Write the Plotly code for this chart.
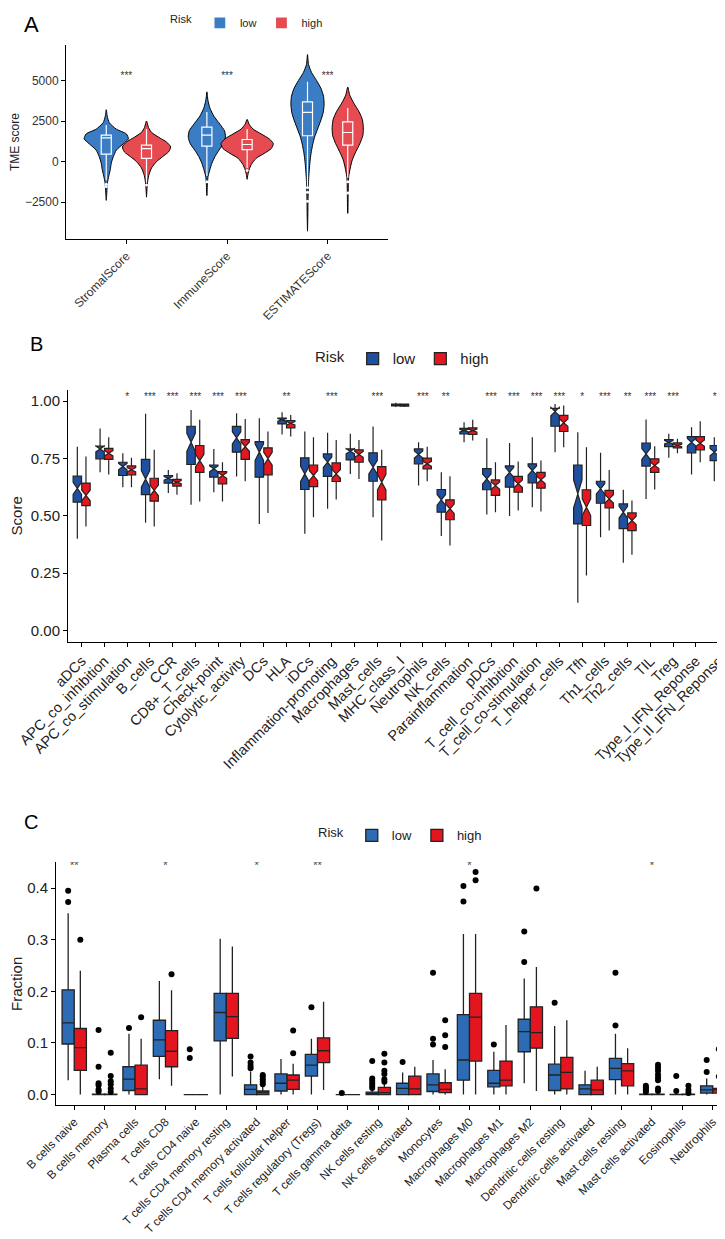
import plotly.graph_objects as go

W, H = 725, 1239
FONT = "Liberation Sans, Arial, sans-serif"

# ---------------- panel A : TME scores (violins + inner boxes) ----------------
tme_cats = ["StromalScore", "ImmuneScore", "ESTIMATEScore"]
tme_sig = ["***", "***", "***"]

# violin outlines: score level -> half width (category units)
stromal_low_y = [3200, 2800, 2400, 2000, 1700, 1400, 1100, 700, 300, -100, -500, -900, -1300, -1600, -2000, -2400]
stromal_low_w = [0, 0.01, 0.03, 0.10, 0.20, 0.22, 0.17, 0.10, 0.07, 0.05, 0.04, 0.025, 0.012, 0.008, 0.005, 0]
stromal_high_y = [2500, 2100, 1800, 1500, 1200, 900, 600, 300, 0, -400, -800, -1200, -1600, -2200]
stromal_high_w = [0, 0.02, 0.05, 0.12, 0.20, 0.24, 0.22, 0.16, 0.10, 0.05, 0.025, 0.012, 0.006, 0]
immune_low_y = [4300, 3800, 3300, 2800, 2300, 1900, 1500, 1100, 700, 300, -100, -500, -900, -1300, -2100]
immune_low_w = [0, 0.01, 0.03, 0.07, 0.13, 0.175, 0.185, 0.165, 0.12, 0.08, 0.05, 0.03, 0.012, 0.006, 0]
immune_high_y = [2600, 2300, 2000, 1700, 1400, 1100, 800, 500, 200, -200, -500, -800, -1100]
immune_high_w = [0, 0.02, 0.06, 0.14, 0.22, 0.26, 0.24, 0.17, 0.09, 0.04, 0.02, 0.008, 0]
estimate_low_y = [6600, 6000, 5500, 5000, 4500, 4000, 3500, 3000, 2500, 2000, 1500, 1000, 500, 0, -500,
                  -1000, -1500, -2500, -3500, -4300]
estimate_low_w = [0, 0.01, 0.04, 0.09, 0.135, 0.16, 0.165, 0.155, 0.13, 0.10, 0.07, 0.05, 0.035, 0.025, 0.018,
                  0.012, 0.008, 0.005, 0.003, 0]
estimate_high_y = [4600, 4100, 3600, 3100, 2600, 2100, 1600, 1100, 600, 100, -400, -900, -1300, -2000, -3000, -3200]
estimate_high_w = [0, 0.02, 0.06, 0.11, 0.145, 0.155, 0.15, 0.12, 0.08, 0.045, 0.025, 0.01, 0.006, 0.004, 0.002, 0]

tme_low_lo = [-1150, -900, -1500]
tme_low_q1 = [450, 950, 1590]
tme_low_med = [1460, 1630, 3030]
tme_low_q3 = [1630, 2120, 3680]
tme_low_hi = [2250, 3050, 4920]
tme_high_lo = [-1300, -400, -1000]
tme_high_q1 = [190, 740, 1010]
tme_high_med = [800, 1050, 1790]
tme_high_q3 = [1010, 1360, 2450]
tme_high_hi = [2000, 2000, 3300]
tme_low_out = [[-1400, -1550], [-1250], [-1600, -1900, -2450]]
tme_high_out = [[-1450], [-550], [-1250, -1950]]

# ---------------- panel B : immune function scores ----------------
func_cats = ["aDCs", "APC_co_inhibition", "APC_co_stimulation", "B_cells", "CCR", "CD8+_T_cells", "Check-point",
             "Cytolytic_activity", "DCs", "HLA", "iDCs", "Inflammation-promoting", "Macrophages", "Mast_cells",
             "MHC_class_I", "Neutrophils", "NK_cells", "Parainflammation", "pDCs", "T_cell_co-inhibition",
             "T_cell_co-stimulation", "T_helper_cells", "Tfh", "Th1_cells", "Th2_cells", "TIL", "Treg",
             "Type_I_IFN_Reponse", "Type_II_IFN_Reponse"]
func_sig = ["", "", "*", "***", "***", "***", "***", "***", "", "**", "", "***", "", "***", "", "***", "**", "",
            "***", "***", "***", "***", "*", "***", "**", "***", "***", "", "***"]

func_low_lo = [0.40, 0.69, 0.625, 0.47, 0.60, 0.548, 0.603, 0.672, 0.465, 0.855, 0.422, 0.531, 0.683, 0.494, 0.975,
               0.632, 0.412, 0.821, 0.506, 0.499, 0.538, 0.778, 0.121, 0.407, 0.295, 0.574, 0.753, 0.680, 0.651]
func_low_q1 = [0.56, 0.749, 0.676, 0.593, 0.643, 0.724, 0.669, 0.778, 0.669, 0.901, 0.615, 0.672, 0.744, 0.651, 0.980,
               0.727, 0.516, 0.858, 0.614, 0.625, 0.644, 0.891, 0.465, 0.555, 0.444, 0.717, 0.802, 0.775, 0.741]
func_low_med = [0.62, 0.792, 0.715, 0.661, 0.664, 0.821, 0.705, 0.840, 0.778, 0.919, 0.683, 0.734, 0.782, 0.712, 0.984,
                0.768, 0.570, 0.872, 0.661, 0.690, 0.698, 0.955, 0.596, 0.618, 0.516, 0.770, 0.821, 0.821, 0.778]
func_low_q3 = [0.673, 0.804, 0.734, 0.746, 0.676, 0.891, 0.722, 0.890, 0.824, 0.926, 0.753, 0.770, 0.792, 0.775, 0.988,
               0.792, 0.615, 0.882, 0.706, 0.718, 0.727, 0.969, 0.722, 0.651, 0.552, 0.817, 0.833, 0.846, 0.807]
func_low_hi = [0.802, 0.881, 0.773, 0.945, 0.70, 0.962, 0.792, 0.948, 0.926, 0.952, 0.868, 0.863, 0.858, 0.890, 0.993,
               0.821, 0.690, 0.908, 0.839, 0.818, 0.843, 0.988, 0.865, 0.775, 0.614, 0.920, 0.858, 0.887, 0.843]

func_high_lo = [0.454, 0.680, 0.625, 0.454, 0.592, 0.563, 0.563, 0.651, 0.512, 0.846, 0.494, 0.571, 0.661, 0.393, 0.975,
                0.651, 0.371, 0.829, 0.516, 0.523, 0.519, 0.799, 0.240, 0.436, 0.330, 0.615, 0.773, 0.734, 0.647]
func_high_q1 = [0.545, 0.746, 0.679, 0.564, 0.630, 0.690, 0.640, 0.746, 0.679, 0.884, 0.628, 0.650, 0.734, 0.570, 0.979,
                0.705, 0.483, 0.855, 0.589, 0.603, 0.621, 0.868, 0.458, 0.535, 0.436, 0.690, 0.797, 0.788, 0.715]
func_high_med = [0.589, 0.773, 0.701, 0.611, 0.647, 0.741, 0.676, 0.802, 0.749, 0.904, 0.676, 0.683, 0.768, 0.647, 0.983,
                 0.727, 0.531, 0.872, 0.632, 0.640, 0.657, 0.906, 0.538, 0.574, 0.480, 0.720, 0.807, 0.817, 0.734]
func_high_q3 = [0.643, 0.794, 0.718, 0.664, 0.659, 0.807, 0.693, 0.833, 0.797, 0.916, 0.722, 0.731, 0.788, 0.715, 0.987,
                0.752, 0.570, 0.884, 0.657, 0.672, 0.690, 0.938, 0.614, 0.611, 0.513, 0.749, 0.818, 0.846, 0.760]
func_high_hi = [0.759, 0.843, 0.753, 0.788, 0.686, 0.919, 0.734, 0.923, 0.868, 0.940, 0.843, 0.831, 0.831, 0.788, 0.990,
                0.802, 0.673, 0.919, 0.734, 0.737, 0.741, 0.981, 0.799, 0.70, 0.567, 0.804, 0.836, 0.913, 0.818]
n_per_group = 45  # used for the notch half-span, 1.58*IQR/sqrt(n) as ggplot does

# ---------------- panel C : CIBERSORT fractions ----------------
cell_cats = ["B cells naive", "B cells memory", "Plasma cells", "T cells CD8", "T cells CD4 naive",
             "T cells CD4 memory resting", "T cells CD4 memory activated", "T cells follicular helper",
             "T cells regulatory (Tregs)", "T cells gamma delta", "NK cells resting", "NK cells activated",
             "Monocytes", "Macrophages M0", "Macrophages M1", "Macrophages M2", "Dendritic cells resting",
             "Dendritic cells activated", "Mast cells resting", "Mast cells activated", "Eosinophils", "Neutrophils"]
cell_sig = ["**", "", "", "*", "", "", "*", "", "**", "", "", "", "", "*", "", "", "", "", "", "*", "", ""]

cell_low_lo = [0.028, 0, 0, 0.030, 0, 0, 0, 0, 0, 0, 0, 0, 0, 0, 0, 0.022, 0, 0, 0, 0, 0, 0]
cell_low_q1 = [0.098, 0, 0.008, 0.074, 0, 0.104, 0, 0.007, 0.036, 0, 0, 0, 0.006, 0.028, 0.015, 0.083, 0.008, 0,
               0.029, 0, 0, 0.003]
cell_low_med = [0.139, 0, 0.030, 0.106, 0, 0.159, 0.010, 0.022, 0.057, 0, 0.002, 0.012, 0.019, 0.067, 0.022, 0.122,
                0.038, 0.011, 0.051, 0, 0, 0.009]
cell_low_q3 = [0.203, 0.001, 0.054, 0.144, 0, 0.196, 0.019, 0.040, 0.078, 0, 0.005, 0.022, 0.040, 0.155, 0.047, 0.146,
               0.059, 0.019, 0.070, 0.001, 0.0005, 0.017]
cell_low_hi = [0.351, 0.003, 0.118, 0.220, 0, 0.302, 0.045, 0.069, 0.108, 0, 0.010, 0.043, 0.067, 0.311, 0.083, 0.225,
               0.133, 0.046, 0.118, 0.002, 0.001, 0.031]
cell_low_out = [[0.395, 0.373], [0.125, 0.054, 0.022, 0.018, 0.010, 0.006], [0.129], [], [0.088, 0.071], [],
                [0.074, 0.062, 0.056, 0.051], [], [0.169], [0.003], [0.065, 0.031, 0.027, 0.022, 0.017, 0.013],
                [0.063], [0.236, 0.108, 0.097], [0.404, 0.374], [0.097], [0.316, 0.257], [0.178], [],
                [0.236, 0.134], [0.017, 0.014, 0.011, 0.008, 0.005], [0.036, 0.007], [0.067, 0.044]]

cell_high_lo = [0, 0, 0, 0.017, 0, 0.035, 0, 0, 0.009, 0, 0, 0, 0, 0, 0, 0.007, 0, 0, 0, 0, 0, 0]
cell_high_q1 = [0.047, 0, 0, 0.054, 0, 0.109, 0, 0.010, 0.062, 0, 0, 0, 0.004, 0.065, 0.017, 0.090, 0.011, 0, 0.017,
                0, 0, 0.003]
cell_high_med = [0.091, 0, 0.011, 0.084, 0, 0.151, 0.004, 0.028, 0.085, 0, 0.004, 0.011, 0.010, 0.150, 0.028, 0.120,
                 0.043, 0.009, 0.046, 0, 0, 0.009]
cell_high_q3 = [0.128, 0.001, 0.057, 0.124, 0, 0.196, 0.007, 0.038, 0.110, 0, 0.014, 0.036, 0.023, 0.196, 0.065,
                0.170, 0.072, 0.028, 0.060, 0.001, 0.001, 0.012]
cell_high_hi = [0.240, 0.002, 0.108, 0.202, 0, 0.287, 0.015, 0.060, 0.180, 0, 0.035, 0.054, 0.049, 0.311, 0.135,
                0.247, 0.144, 0.054, 0.090, 0.002, 0.002, 0.026]
cell_high_out = [[0.300], [0.081, 0.036, 0.026, 0.020, 0.012, 0.005], [0.150], [0.233], [], [],
                 [0.038, 0.035, 0.030, 0.025, 0.020], [0.124, 0.080], [], [],
                 [0.079, 0.062, 0.046, 0.040, 0.030, 0.025], [], [0.144, 0.115, 0.092], [0.431, 0.415], [], [0.399],
                 [], [], [], [0.058, 0.052, 0.046, 0.039, 0.033, 0.028, 0.012, 0.007], [0.017, 0.009, 0.003],
                 [0.088, 0.035]]

# colours
A_LOW, A_HIGH = "#3A7DC4", "#E64B52"
B_LOW, B_HIGH = "#1F4F9F", "#E3171F"
C_LOW, C_HIGH = "#2D6BB5", "#E3161F"


def px(x):
    return x / W


def py(y):
    return 1 - y / H


fig = go.Figure()

# ---- panel A ----
violins = [
    (0, -0.2, stromal_low_y, stromal_low_w, A_LOW), (0, 0.2, stromal_high_y, stromal_high_w, A_HIGH),
    (1, -0.2, immune_low_y, immune_low_w, A_LOW), (1, 0.2, immune_high_y, immune_high_w, A_HIGH),
    (2, -0.2, estimate_low_y, estimate_low_w, A_LOW), (2, 0.2, estimate_high_y, estimate_high_w, A_HIGH),
]
for cat, off, ys, ws, col in violins:
    c = cat + off
    xs = [c - w for w in ws] + [c + w for w in ws[::-1]]
    fig.add_trace(go.Scatter(
        x=xs, y=ys + ys[::-1], fill="toself", fillcolor=col, mode="lines",
        line=dict(color="black", width=1, shape="spline", smoothing=0.6), hoverinfo="skip", showlegend=False,
        xaxis="x", yaxis="y"))

# the inner boxes sit on an overlaid copy of the A axes so they are drawn above the violins
for name, off, col, lo, q1, med, q3, hi, outs in [
        ("low", -0.2, A_LOW, tme_low_lo, tme_low_q1, tme_low_med, tme_low_q3, tme_low_hi, tme_low_out),
        ("high", 0.2, A_HIGH, tme_high_lo, tme_high_q1, tme_high_med, tme_high_q3, tme_high_hi, tme_high_out)]:
    xpos = [i + off for i in range(len(tme_cats))]
    fig.add_trace(go.Box(
        x=xpos, q1=q1, median=med, q3=q3, lowerfence=lo, upperfence=hi,
        width=0.1, whiskerwidth=0, fillcolor=col, line=dict(color="white", width=1.2),
        name=name, legend="legend", xaxis="x4", yaxis="y4", hoverinfo="skip"))
    ox, oy = [], []
    for x, vals in zip(xpos, outs):
        ox += [x] * len(vals)
        oy += vals
    fig.add_trace(go.Scatter(x=ox, y=oy, mode="markers", marker=dict(color="white", size=3),
                             showlegend=False, hoverinfo="skip", xaxis="x", yaxis="y"))

fig.add_trace(go.Scatter(x=list(range(len(tme_cats))), y=[5250] * len(tme_cats), text=tme_sig, mode="text",
                         textfont=dict(size=10, color="#333"), showlegend=False, hoverinfo="skip",
                         xaxis="x", yaxis="y"))

# ---- panel B ----
for name, off, col, lo, q1, med, q3, hi in [
        ("low", -0.19, B_LOW, func_low_lo, func_low_q1, func_low_med, func_low_q3, func_low_hi),
        ("high", 0.19, B_HIGH, func_high_lo, func_high_q1, func_high_med, func_high_q3, func_high_hi)]:
    notch = [1.58 * (b - a) / n_per_group ** 0.5 for a, b in zip(q1, q3)]
    fig.add_trace(go.Box(
        x=[i + off for i in range(len(func_cats))], q1=q1, median=med, q3=q3, lowerfence=lo, upperfence=hi,
        notched=True, notchspan=notch, notchwidth=0.5,
        width=0.37, whiskerwidth=0, fillcolor=col, line=dict(color="#222222", width=1.2),
        name=name, legend="legend2", xaxis="x2", yaxis="y2", hoverinfo="skip"))

fig.add_trace(go.Scatter(x=list(range(len(func_cats))), y=[1.015] * len(func_cats), text=func_sig, mode="text",
                         textfont=dict(size=10, color="#333"), showlegend=False, hoverinfo="skip",
                         xaxis="x2", yaxis="y2"))

# ---- panel C ----
for name, off, col, lo, q1, med, q3, hi, outs in [
        ("low", -0.2, C_LOW, cell_low_lo, cell_low_q1, cell_low_med, cell_low_q3, cell_low_hi, cell_low_out),
        ("high", 0.2, C_HIGH, cell_high_lo, cell_high_q1, cell_high_med, cell_high_q3, cell_high_hi, cell_high_out)]:
    xpos = [i + off for i in range(len(cell_cats))]
    fig.add_trace(go.Box(
        x=xpos, q1=q1, median=med, q3=q3, lowerfence=lo, upperfence=hi,
        width=0.4, whiskerwidth=0, fillcolor=col, line=dict(color="#222222", width=1.3),
        name=name, legend="legend3", xaxis="x3", yaxis="y3", hoverinfo="skip"))
    ox, oy = [], []
    for x, vals in zip(xpos, outs):
        ox += [x] * len(vals)
        oy += vals
    fig.add_trace(go.Scatter(x=ox, y=oy, mode="markers", marker=dict(color="black", size=6),
                             showlegend=False, hoverinfo="skip", xaxis="x3", yaxis="y3"))

fig.add_trace(go.Scatter(x=list(range(len(cell_cats))), y=[0.442] * len(cell_cats), text=cell_sig, mode="text",
                         textfont=dict(size=11, color="#333"), showlegend=False, hoverinfo="skip",
                         xaxis="x3", yaxis="y3"))

axis_style = dict(showline=True, linecolor="black", linewidth=1, ticks="outside", ticklen=4, tickcolor="black",
                  showgrid=False, zeroline=False, fixedrange=True, automargin=False)

a_x_dom = [px(58), px(380)]
a_y_dom = [py(228), py(33)]
a_x_rng = [-0.6, 2.6]
a_y_rng = [-4800, 7200]

fig.update_layout(
    width=W, height=H, margin=dict(l=0, r=0, t=0, b=0),
    plot_bgcolor="white", paper_bgcolor="white",
    font=dict(family=FONT, color="#222"),
    boxmode="overlay",
    xaxis=dict(axis_style, anchor="y", domain=a_x_dom, range=a_x_rng, tickvals=[0, 1, 2],
               ticktext=tme_cats, tickangle=-45, tickfont=dict(size=12, color="#333")),
    yaxis=dict(axis_style, anchor="x", domain=a_y_dom, range=a_y_rng,
               tickvals=[-2500, 0, 2500, 5000], tickfont=dict(size=12, color="#333"),
               title=dict(text="TME score", font=dict(size=12), standoff=6)),
    xaxis4=dict(overlaying="x", anchor="y4", domain=a_x_dom, range=a_x_rng, visible=False, fixedrange=True),
    yaxis4=dict(overlaying="y", anchor="x4", domain=a_y_dom, range=a_y_rng, visible=False, fixedrange=True),
    xaxis2=dict(axis_style, anchor="y2", domain=[px(60), px(722)], range=[-0.6, 28.5],
                tickvals=list(range(len(func_cats))), ticktext=func_cats, tickangle=-45,
                tickfont=dict(size=14.5, color="#222")),
    yaxis2=dict(axis_style, anchor="x2", domain=[py(632), py(379)], range=[-0.05, 1.05],
                tickvals=[0, 0.25, 0.5, 0.75, 1.0], tickformat=".2f", tickfont=dict(size=15, color="#222"),
                title=dict(text="Score", font=dict(size=15), standoff=6)),
    xaxis3=dict(axis_style, anchor="y3", domain=[px(48), px(723)], range=[-0.6, 21.6],
                tickvals=list(range(len(cell_cats))), ticktext=cell_cats, tickangle=-45,
                tickfont=dict(size=11.8, color="#222")),
    yaxis3=dict(axis_style, anchor="x3", domain=[py(1097), py(853)], range=[-0.021, 0.45],
                tickvals=[0, 0.1, 0.2, 0.3, 0.4], tickformat=".1f", tickfont=dict(size=15, color="#222"),
                title=dict(text="Fraction", font=dict(size=15), standoff=6)),
    legend=dict(orientation="h", x=px(160), y=py(11), xanchor="left", yanchor="middle",
                title=dict(text="Risk", side="left", font=dict(size=11)), font=dict(size=11),
                bgcolor="rgba(0,0,0,0)", itemwidth=30),
    legend2=dict(orientation="h", x=px(305), y=py(348), xanchor="left", yanchor="middle",
                 title=dict(text="Risk", side="left", font=dict(size=15)), font=dict(size=15),
                 bgcolor="rgba(0,0,0,0)", itemwidth=30),
    legend3=dict(orientation="h", x=px(308), y=py(826), xanchor="left", yanchor="middle",
                 title=dict(text="Risk", side="left", font=dict(size=13)), font=dict(size=13),
                 bgcolor="rgba(0,0,0,0)", itemwidth=30),
    annotations=[
        dict(text="A", x=px(14), y=py(13), xref="paper", yref="paper", xanchor="left", yanchor="middle",
             showarrow=False, font=dict(size=22, color="black")),
        dict(text="B", x=px(20), y=py(333), xref="paper", yref="paper", xanchor="left", yanchor="middle",
             showarrow=False, font=dict(size=20, color="black")),
        dict(text="C", x=px(14), y=py(813), xref="paper", yref="paper", xanchor="left", yanchor="middle",
             showarrow=False, font=dict(size=20, color="black")),
    ],
)

fig.write_html("out.html")
